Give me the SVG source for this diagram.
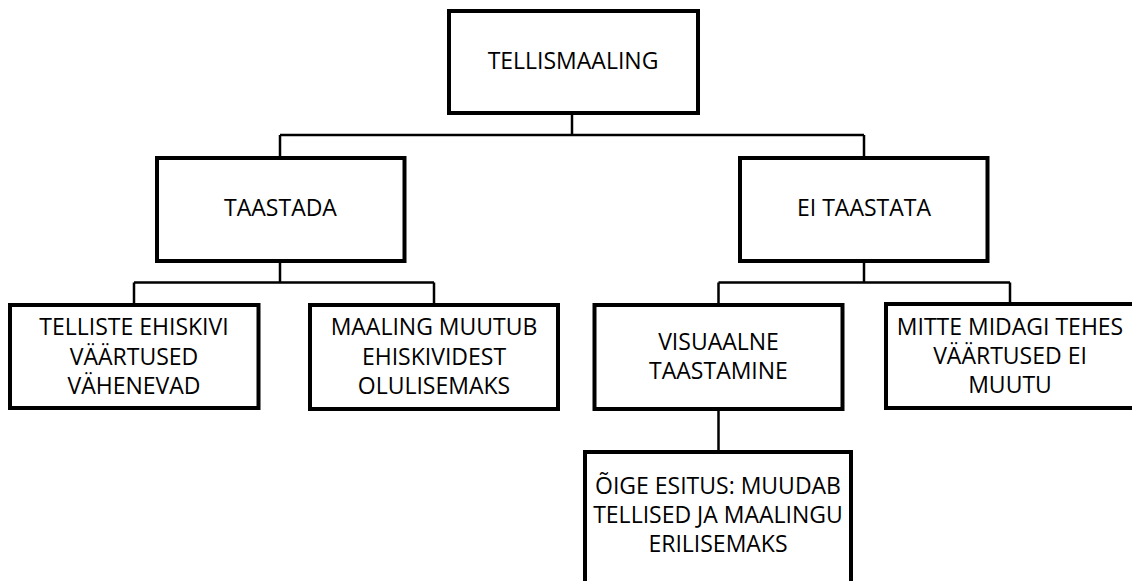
<svg xmlns="http://www.w3.org/2000/svg" width="1132" height="581" viewBox="0 0 1132 581">
<style>
.box{fill:#fff;stroke:#000;stroke-width:4}
.conn{fill:none;stroke:#000;stroke-width:2.5}
text{font-family:"Open Sans","Liberation Sans",sans-serif;font-size:23px;fill:#000;text-anchor:middle}
</style>
<rect x="0" y="0" width="1132" height="581" fill="#fff"/>
<g id="connectors">
<path class="conn" d="M572 113V135M280 135H864M280 135V158M864 135V158"/>
<path class="conn" d="M280 261V282.5M134 282.5H434M134 282.5V305M434 282.5V305"/>
<path class="conn" d="M864 261V282.5M718.5 282.5H1010M718.5 282.5V305M1010 282.5V304"/>
<path class="conn" d="M718.5 409V452"/>
</g>
<g id="tellismaaling">
<rect class="box" x="449" y="11" width="249" height="102"/>
<text x="573" y="69">TELLISMAALING</text>
</g>
<g id="taastada">
<rect class="box" x="157" y="158" width="247.5" height="103"/>
<text x="280.5" y="216">TAASTADA</text>
</g>
<g id="ei-taastata">
<rect class="box" x="740" y="158" width="247.5" height="103"/>
<text x="864" y="216">EI TAASTATA</text>
</g>
<g id="telliste">
<rect class="box" x="10" y="305" width="248.5" height="103"/>
<text x="134" y="335">TELLISTE EHISKIVI</text>
<text x="134" y="364.5">VÄÄRTUSED</text>
<text x="134" y="394">VÄHENEVAD</text>
</g>
<g id="maaling">
<rect class="box" x="310" y="305" width="248" height="104"/>
<text x="434" y="335">MAALING MUUTUB</text>
<text x="434" y="364.5">EHISKIVIDEST</text>
<text x="434" y="394">OLULISEMAKS</text>
</g>
<g id="visuaalne">
<rect class="box" x="594.5" y="305" width="248" height="104"/>
<text x="718.5" y="350">VISUAALNE</text>
<text x="718.5" y="379.3">TAASTAMINE</text>
</g>
<g id="mitte">
<rect class="box" x="886" y="304" width="248" height="104"/>
<text x="1010" y="335">MITTE MIDAGI TEHES</text>
<text x="1010" y="364">VÄÄRTUSED EI</text>
<text x="1010" y="393">MUUTU</text>
</g>
<g id="oige-esitus">
<rect class="box" x="585" y="452" width="266" height="160"/>
<text x="718" y="494">ÕIGE ESITUS: MUUDAB</text>
<text x="718" y="523">TELLISED JA MAALINGU</text>
<text x="718" y="552">ERILISEMAKS</text>
</g>
</svg>
